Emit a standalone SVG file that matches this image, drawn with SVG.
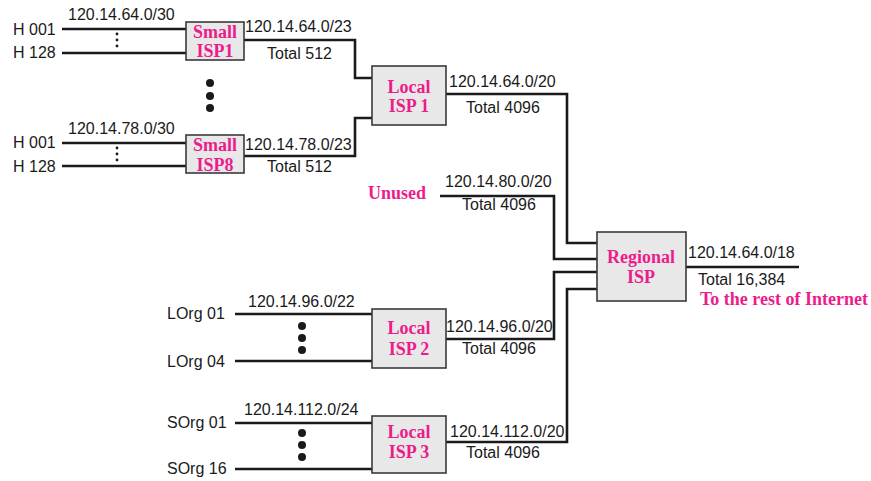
<svg xmlns="http://www.w3.org/2000/svg" width="871" height="481" viewBox="0 0 871 481">
<style>
.box{fill:#e8e8e8;stroke:#3a3a3a;stroke-width:1.6}
.ln{fill:none;stroke:#1a1a1a;stroke-width:2.6}
.t{font-family:"Liberation Sans",Arial,sans-serif;font-size:16px;fill:#1a1a1a}
.p{font-family:"Liberation Serif","Times New Roman",serif;font-size:18px;font-weight:bold;fill:#ec1c8c}
.pc{text-anchor:middle}
.dot{fill:#1a1a1a}
</style>
<rect width="871" height="481" fill="#ffffff"/>
<g id="connectors">
<path class="ln" d="M62 29H186M62 53H186"/>
<path class="ln" d="M62 143H186M62 166H186"/>
<path class="ln" d="M244 40H355V78H372"/>
<path class="ln" d="M244 156H355V118H372"/>
<path class="ln" d="M446 94H567V243H597"/>
<path class="ln" d="M440 196H554V259H597"/>
<path class="ln" d="M446 339H554V272H597"/>
<path class="ln" d="M446 442H567V289H597"/>
<path class="ln" d="M686 267H799"/>
<path class="ln" d="M235 314H372M235 361H372"/>
<path class="ln" d="M235 423H372M235 469H372"/>
</g>
<g id="dots">
<circle class="dot" cx="117" cy="34" r="1.4"/><circle class="dot" cx="117" cy="40" r="1.4"/><circle class="dot" cx="117" cy="46" r="1.4"/>
<circle class="dot" cx="117" cy="148" r="1.4"/><circle class="dot" cx="117" cy="154" r="1.4"/><circle class="dot" cx="117" cy="160" r="1.4"/>
<circle class="dot" cx="210" cy="83" r="4"/><circle class="dot" cx="210" cy="96" r="4"/><circle class="dot" cx="210" cy="108" r="4"/>
<circle class="dot" cx="302" cy="326" r="4"/><circle class="dot" cx="302" cy="338" r="4"/><circle class="dot" cx="302" cy="350" r="4"/>
<circle class="dot" cx="302" cy="433" r="4"/><circle class="dot" cx="302" cy="445" r="4"/><circle class="dot" cx="302" cy="457" r="4"/>
</g>
<g id="labels">
<text class="t" x="13" y="35">H 001</text>
<text class="t" x="13" y="58">H 128</text>
<text class="t" x="68" y="20">120.14.64.0/30</text>
<text class="t" x="245" y="32">120.14.64.0/23</text>
<text class="t" x="267" y="59">Total 512</text>
<text class="t" x="13" y="148">H 001</text>
<text class="t" x="13" y="172">H 128</text>
<text class="t" x="68" y="134">120.14.78.0/30</text>
<text class="t" x="245" y="150">120.14.78.0/23</text>
<text class="t" x="267" y="172">Total 512</text>
<text class="t" x="449" y="87">120.14.64.0/20</text>
<text class="t" x="466" y="113">Total 4096</text>
<text class="p" x="368" y="199">Unused</text>
<text class="t" x="445" y="187">120.14.80.0/20</text>
<text class="t" x="462" y="210">Total 4096</text>
<text class="t" x="688" y="258">120.14.64.0/18</text>
<text class="t" x="698" y="285">Total 16,384</text>
<text class="p" x="700" y="305">To the rest of Internet</text>
<text class="t" x="167" y="319">LOrg 01</text>
<text class="t" x="167" y="367">LOrg 04</text>
<text class="t" x="248" y="307">120.14.96.0/22</text>
<text class="t" x="446" y="332">120.14.96.0/20</text>
<text class="t" x="462" y="354">Total 4096</text>
<text class="t" x="167" y="428">SOrg 01</text>
<text class="t" x="167" y="474">SOrg 16</text>
<text class="t" x="244" y="415">120.14.112.0/24</text>
<text class="t" x="450" y="437">120.14.112.0/20</text>
<text class="t" x="466" y="458">Total 4096</text>
</g>
<g id="small-isp1">
<rect class="box" x="186" y="22" width="58" height="38"/>
<text class="p pc" x="215" y="38">Small</text>
<text class="p pc" x="215" y="57">ISP1</text>
</g>
<g id="small-isp8">
<rect class="box" x="186" y="135" width="58" height="38"/>
<text class="p pc" x="215" y="151">Small</text>
<text class="p pc" x="215" y="171">ISP8</text>
</g>
<g id="local-isp1">
<rect class="box" x="372" y="66" width="74" height="59"/>
<text class="p pc" x="409" y="93">Local</text>
<text class="p pc" x="409" y="112">ISP 1</text>
</g>
<g id="local-isp2">
<rect class="box" x="372" y="309" width="74" height="59"/>
<text class="p pc" x="409" y="334">Local</text>
<text class="p pc" x="409" y="355">ISP 2</text>
</g>
<g id="local-isp3">
<rect class="box" x="372" y="416" width="74" height="57"/>
<text class="p pc" x="409" y="438">Local</text>
<text class="p pc" x="409" y="458">ISP 3</text>
</g>
<g id="regional-isp">
<rect class="box" x="597" y="232" width="89" height="69"/>
<text class="p pc" x="641" y="263">Regional</text>
<text class="p pc" x="641" y="283">ISP</text>
</g>
</svg>
